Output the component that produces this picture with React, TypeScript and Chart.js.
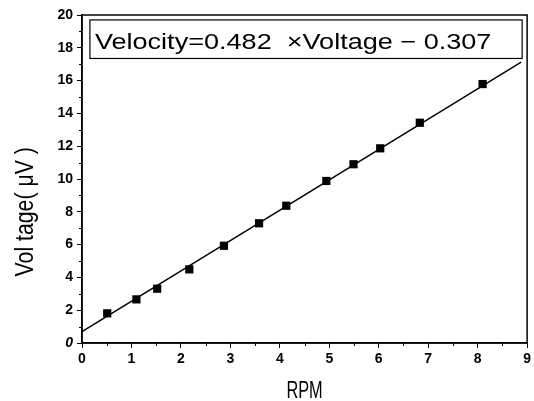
import React, { useEffect, useRef } from 'react';
import { Chart, registerables } from 'chart.js';

Chart.register(...registerables);

// Measured data points (RPM vs Voltage)
const rpm = [0.51, 1.1, 1.52, 2.17, 2.87, 3.58, 4.13, 4.94, 5.49, 6.03, 6.83, 8.1];
const voltage = [1.81, 2.66, 3.31, 4.49, 5.93, 7.3, 8.37, 9.88, 10.9, 11.87, 13.43, 15.79];

// Fitted line end points
const fitRpm = [0, 8.88];
const fitVoltage = [0.69, 17.13];

const xTickValues = [0, 1, 2, 3, 4, 5, 6, 7, 8, 9];
const yTickValues = [0, 2, 4, 6, 8, 10, 12, 14, 16, 18, 20];

const equationText = 'Velocity=0.482  \u00D7Voltage \u2212 0.307';
const xTitle = 'RPM';
const yTitle = 'Vol tage( \u03BCV )';

const sans = "'Liberation Sans', Arial, sans-serif";

const decorPlugin = {
  id: 'decor',
  afterDraw(chart: any) {
    const { ctx, chartArea, scales } = chart;
    const xs = scales.x;
    const ys = scales.y;
    ctx.save();
    // frame
    ctx.strokeStyle = '#000';
    ctx.lineWidth = 1.5;
    ctx.strokeRect(chartArea.left, chartArea.top, chartArea.right - chartArea.left, chartArea.bottom - chartArea.top);

    // minor ticks
    ctx.lineWidth = 1;
    ctx.beginPath();
    for (let v = 1; v < 20; v += 2) {
      const py = Math.round(ys.getPixelForValue(v)) + 0.5;
      ctx.moveTo(chartArea.left - 3, py);
      ctx.lineTo(chartArea.left, py);
    }
    for (let v = 0.5; v < 9; v += 1) {
      const px = Math.round(xs.getPixelForValue(v)) + 0.5;
      ctx.moveTo(px, chartArea.bottom);
      ctx.lineTo(px, chartArea.bottom + 3);
    }
    ctx.stroke();

    // equation box
    const bx1 = xs.getPixelForValue(0.16);
    const bx2 = xs.getPixelForValue(8.9);
    const by1 = ys.getPixelForValue(19.7);
    const by2 = ys.getPixelForValue(17.35);
    ctx.fillStyle = '#fff';
    ctx.fillRect(bx1, by1, bx2 - bx1, by2 - by1);
    ctx.lineWidth = 1.2;
    ctx.strokeRect(bx1, by1, bx2 - bx1, by2 - by1);
    ctx.fillStyle = '#000';
    ctx.save();
    ctx.translate(bx1 + 5, by1 + 29);
    ctx.scale(1.23, 1);
    ctx.font = `22px ${sans}`;
    ctx.textAlign = 'left';
    ctx.textBaseline = 'alphabetic';
    ctx.fillText(equationText, 0, 0);
    ctx.restore();

    // axis titles (condensed)
    ctx.save();
    ctx.translate((chartArea.left + chartArea.right) / 2, 398);
    ctx.scale(0.68, 1);
    ctx.font = `24px ${sans}`;
    ctx.textAlign = 'center';
    ctx.textBaseline = 'alphabetic';
    ctx.fillText(xTitle, 0, 0);
    ctx.restore();

    ctx.save();
    ctx.translate(33, ys.getPixelForValue(8.0));
    ctx.rotate(-Math.PI / 2);
    ctx.scale(0.85, 1);
    ctx.font = `25px ${sans}`;
    ctx.textAlign = 'center';
    ctx.textBaseline = 'alphabetic';
    ctx.fillText(yTitle, 0, 0);
    ctx.restore();

    ctx.restore();
  },
};

export default function App() {
  const ref = useRef<HTMLCanvasElement>(null);
  useEffect(() => {
    if (!ref.current) return;
    const chart = new Chart(ref.current, {
      type: 'scatter',
      data: {
        datasets: [
          {
            label: 'fit',
            data: fitRpm.map((x, i) => ({ x, y: fitVoltage[i] })),
            showLine: true,
            borderColor: '#000',
            borderWidth: 1.5,
            pointRadius: 0,
            fill: false,
          },
          {
            label: 'data',
            data: rpm.map((x, i) => ({ x, y: voltage[i] })),
            showLine: false,
            pointStyle: 'rect',
            pointRadius: 5.8,
            backgroundColor: '#000',
            borderColor: '#000',
            borderWidth: 0,
          },
        ],
      },
      options: {
        responsive: false,
        animation: false,
        layout: { padding: { top: 15, right: 3, left: 0, bottom: 0 } },
        plugins: { legend: { display: false }, tooltip: { enabled: false } },
        scales: {
          x: {
            type: 'linear',
            min: 0,
            max: 9,
            afterBuildTicks: (s: any) => { s.ticks = xTickValues.map((v) => ({ value: v })); },
            afterFit: (s: any) => { s.height = 58; },
            ticks: {
              color: '#000',
              font: { family: sans, size: 14, weight: 'bold' },
              padding: 3,
              maxRotation: 0,
            },
            grid: { drawOnChartArea: false, tickLength: 5, color: '#000', lineWidth: 1 },
            border: { display: true, color: '#000', width: 1.5 },
          },
          y: {
            type: 'linear',
            min: 0,
            max: 20,
            afterBuildTicks: (s: any) => { s.ticks = yTickValues.map((v) => ({ value: v })); },
            afterFit: (s: any) => { s.width = 82; },
            ticks: {
              color: '#000',
              font: (c: any) => ({ family: sans, size: 14, weight: 'bold', style: c.tick && c.tick.value === 0 ? 'italic' : 'normal' }),
              padding: 4,
            },
            grid: { drawOnChartArea: false, tickLength: 5, color: '#000', lineWidth: 1 },
            border: { display: true, color: '#000', width: 1.5 },
          },
        },
      },
      plugins: [decorPlugin],
    });
    return () => chart.destroy();
  }, []);
  return (
    <div style={{ position: 'absolute', left: 0, top: 0, width: 534, height: 401, background: '#fff' }}>
      <canvas ref={ref} width={534} height={401} />
    </div>
  );
}
